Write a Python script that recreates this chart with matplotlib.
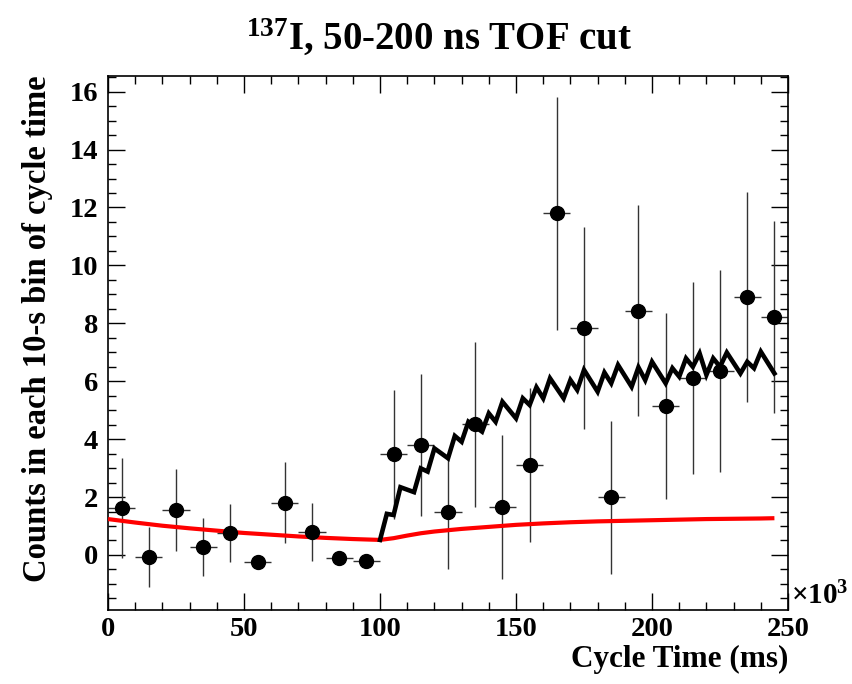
import numpy as np
import matplotlib
matplotlib.use("Agg")
import matplotlib.pyplot as plt
from matplotlib.ticker import MultipleLocator

plt.rcParams["font.family"] = ["Liberation Serif", "DejaVu Serif"]
plt.rcParams["font.weight"] = "bold"
plt.rcParams["mathtext.fontset"] = "custom"
plt.rcParams["mathtext.rm"] = "Liberation Serif:bold"
plt.rcParams["mathtext.bf"] = "Liberation Serif:bold"
plt.rcParams["mathtext.default"] = "rm"

# Histogram bins (bin centres, in units of 10^3 ms) and counts with errors
bin_centers = [5, 15, 25, 35, 45, 55, 65, 75, 85, 95,
               105, 115, 125, 135, 145, 155, 165, 175, 185, 195,
               205, 215, 225, 235, 245]
counts = [1.62, -0.08, 1.55, 0.27, 0.75, -0.25, 1.81, 0.78, -0.09, -0.21,
          3.47, 3.80, 1.50, 4.52, 1.65, 3.11, 11.80, 7.84, 1.99, 8.44,
          5.14, 6.12, 6.36, 8.91, 8.22]
count_err = [1.73, 1.03, 1.41, 1.01, 1.00, 0.20, 1.40, 1.00, 0.20, 0.20,
             2.23, 2.45, 2.00, 2.85, 2.48, 2.65, 4.02, 3.50, 2.65, 3.65,
             3.20, 3.32, 3.48, 3.62, 3.31]
bin_half_width = 5

# Total fit (black) vertices
fit_x = [100, 102.5, 105, 107.5, 112.5, 115, 117.5, 120, 125, 127.5, 130, 132.5,
         137.5, 140, 142.5, 145, 150, 152.5, 155, 157.5, 160, 162.5, 167.5, 170,
         172.5, 175, 180, 182.5, 185, 187.5, 192.5, 195, 197.5, 200, 205, 207.5,
         210, 212.5, 215, 217.5, 220, 222.5, 225, 227.5, 232.5, 235, 237.5, 240, 245]
fit_y = [0.52, 1.42, 1.38, 2.34, 2.17, 2.99, 2.88, 3.68, 3.34, 4.11, 3.91, 4.60,
         4.26, 4.89, 4.60, 5.29, 4.72, 5.41, 5.18, 5.79, 5.41, 6.10, 5.41, 6.04,
         5.70, 6.39, 5.64, 6.30, 5.93, 6.56, 5.81, 6.48, 6.04, 6.67, 5.93, 6.45,
         6.16, 6.79, 6.50, 6.96, 6.22, 6.79, 6.50, 6.99, 6.27, 6.67, 6.45, 7.02, 6.27]

# Background component (red)
bkg_x = [0, 10, 20, 30, 40, 50, 60, 70, 80, 90, 100, 105, 110, 115, 120, 130,
         140, 150, 160, 170, 180, 190, 200, 210, 220, 230, 240, 245]
bkg_y = [1.24, 1.12, 1.01, 0.92, 0.84, 0.76, 0.70, 0.64, 0.59, 0.55, 0.52, 0.58,
         0.67, 0.75, 0.81, 0.90, 0.97, 1.04, 1.09, 1.13, 1.16, 1.18, 1.20, 1.22,
         1.24, 1.25, 1.26, 1.27]

fig = plt.figure(figsize=(8.52, 6.84), dpi=100)
ax = fig.add_axes([0.1268, 0.1082, 0.7981, 0.7811])

ax.errorbar(bin_centers, counts, yerr=count_err, xerr=bin_half_width,
            fmt="none", ecolor="#333333", elinewidth=1.0, capsize=0, zorder=2)
ax.plot(bkg_x, bkg_y, color="#ff0000", lw=3.0, zorder=3, solid_capstyle="butt")
ax.plot(fit_x, fit_y, color="black", lw=3.3, zorder=3, solid_joinstyle="miter")
ax.plot(bin_centers, counts, "o", color="black", ms=10, zorder=4)

ax.set_xlim(0, 250)
ax.set_ylim(-1.9, 16.55)
ax.xaxis.set_major_locator(MultipleLocator(50))
ax.xaxis.set_minor_locator(MultipleLocator(10))
ax.yaxis.set_major_locator(MultipleLocator(2))
ax.yaxis.set_minor_locator(MultipleLocator(0.5))
ax.tick_params(which="both", direction="in", top=True, right=True,
               labelsize=20.5, width=1.0)
ax.tick_params(axis="x", pad=5)
ax.tick_params(axis="y", pad=7)
ax.tick_params(which="major", length=12)
ax.tick_params(which="minor", length=5.5)
for s in ax.spines.values():
    s.set_linewidth(1.2)

ax.set_xlabel("Cycle Time (ms)", fontsize=22.5, fontweight="bold", loc="right",
              labelpad=2)
ax.set_ylabel("Counts in each 10-s bin of cycle time", fontsize=23.5,
              fontweight="bold", loc="top", labelpad=12)
ax.text(1.004, 0.0, "×10$^{3}$", transform=ax.transAxes, fontsize=21,
        fontweight="bold", ha="left", va="bottom")
fig.text(0.515, 0.945, "$^{137}$I, 50-200 ns TOF cut", fontsize=28,
         fontweight="bold", ha="center", va="center")

fig.savefig("out.png", dpi=100)
